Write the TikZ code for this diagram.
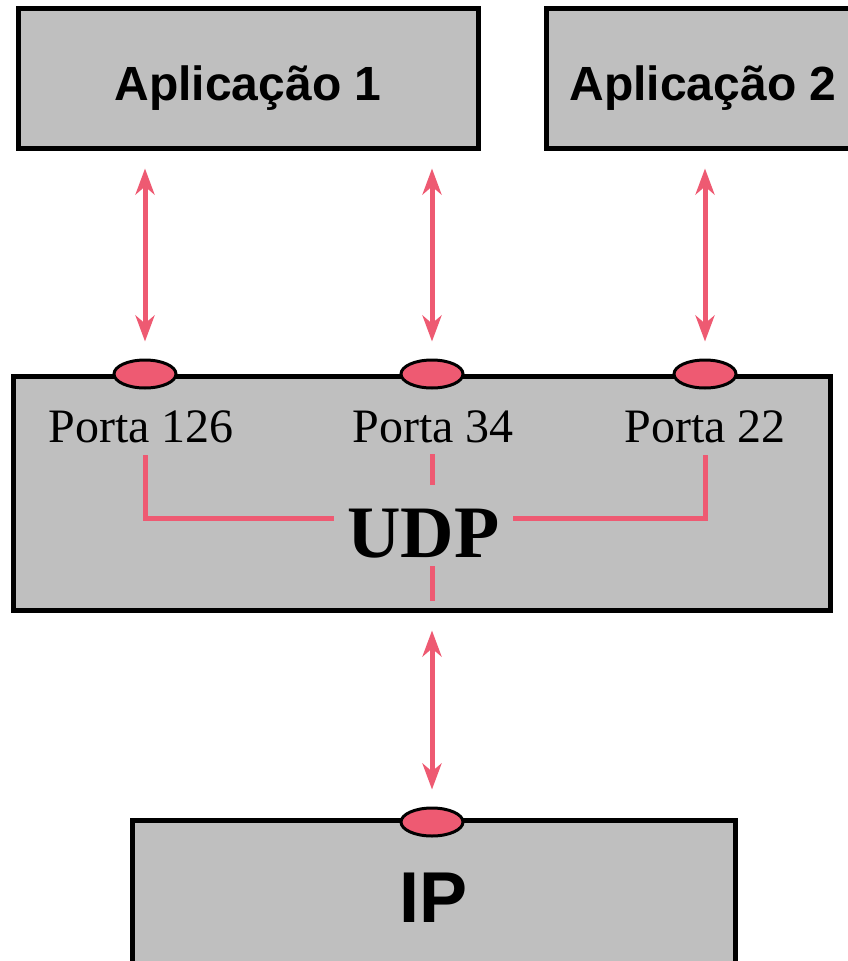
\documentclass[tikz,border=0pt]{standalone}
\usepackage{fontspec}
\setmainfont{Liberation Serif}
\setsansfont{Liberation Sans}
\usetikzlibrary{arrows.meta,shapes.geometric}
\definecolor{cinza}{HTML}{BFBFBF}
\definecolor{rosa}{HTML}{EE5A72}
\tikzset{
  caixa/.style={draw,line width=5pt,fill=cinza,inner sep=0pt},
  porta/.style={ellipse,draw,line width=3pt,fill=rosa,minimum width=62pt,minimum height=28pt,inner sep=0pt},
  seta/.style={rosa,line width=5pt,{Stealth[length=26pt,width=19pt,inset=8pt]}-{Stealth[length=26pt,width=19pt,inset=8pt]}},
  ligacao/.style={rosa,line width=5pt},
  rotulo/.style={inner sep=0pt,font=\fontsize{48}{48}\selectfont}
}
\begin{document}
\begin{tikzpicture}[x=1pt,y=-1pt]
\useasboundingbox (0,0) rectangle (848,961);
\clip (0,0) rectangle (848,961);
% Aplicações
\node[caixa,minimum width=460pt,minimum height=140pt,font=\sffamily\bfseries\fontsize{48}{48}\selectfont,text height=44pt,text depth=0pt] (app1) at (248,78) {Aplicação 1};
\node[caixa,minimum width=314pt,minimum height=140pt,font=\sffamily\bfseries\fontsize{48}{48}\selectfont,text height=44pt,text depth=0pt] (app2) at (703,78) {Aplicação 2};
% UDP
\node[caixa,minimum width=817pt,minimum height=234pt] (udp) at (421.5,493) {};
% IP
\node[caixa,minimum width=603pt,minimum height=150pt,font=\sffamily\bfseries\fontsize{72}{72}\selectfont,text height=54pt,text depth=0pt] (ip) at (433.5,895) {IP};
% Portas
\node[porta] (port126) at (145,374) {};
\node[porta] (port34) at (432,374) {};
\node[porta] (port22) at (705,374) {};
\node[porta] (portip) at (432,822) {};
\node[rotulo] (lbl126) at (141,427) {Porta 126};
\node[rotulo] (lbl34) at (433,427) {Porta 34};
\node[rotulo] (lbl22) at (705,427) {Porta 22};
% Setas
\draw[seta,shorten <=18pt,shorten >=17pt] (app1.south -| port126) -- (port126.north);
\draw[seta,shorten <=18pt,shorten >=17pt] (app1.south -| port34) -- (port34.north);
\draw[seta,shorten <=18pt,shorten >=17pt] (app2.south -| port22) -- (port22.north);
\draw[seta,shorten <=18pt,shorten >=17pt] (udp.south -| portip) -- (portip.north);
% Ligações dentro do UDP
\coordinate (meio) at (432,518);
\draw[ligacao,shorten <=12pt,shorten >=12pt] (lbl126.south -| port126) |- (meio) -| (lbl22.south -| port22);
\draw[ligacao,shorten <=11pt,shorten >=12pt] (lbl34.south -| port34) -- (udp.south -| port34);
\node[fill=cinza,inner xsep=13pt,inner ysep=9pt,text height=63pt,text depth=0pt,font=\bfseries\fontsize{74}{74}\selectfont] (udptxt) at (423.5,525.5) {UDP};
\end{tikzpicture}
\end{document}
